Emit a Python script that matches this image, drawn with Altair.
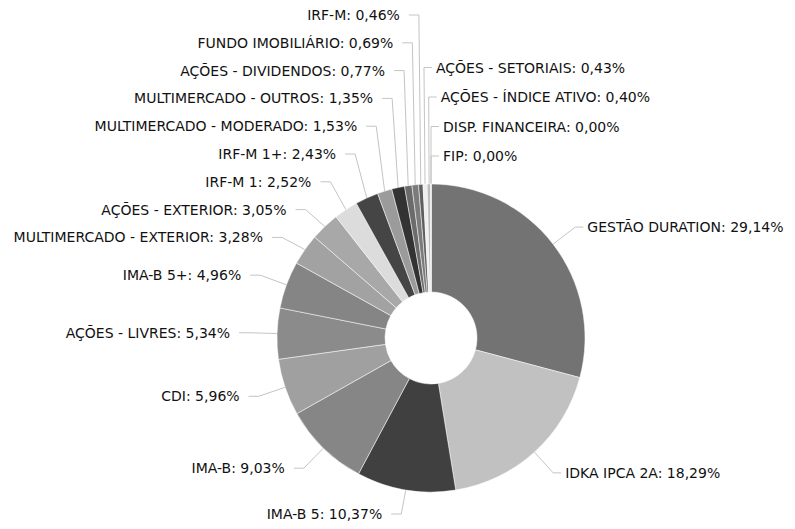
import math
import altair as alt
import pandas as pd

# ---------------- data ----------------
names = [
    "GESTÃO DURATION", "IDKA IPCA 2A", "IMA-B 5", "IMA-B", "CDI",
    "AÇÕES - LIVRES", "IMA-B 5+", "MULTIMERCADO - EXTERIOR", "AÇÕES - EXTERIOR",
    "IRF-M 1", "IRF-M 1+", "MULTIMERCADO - MODERADO", "MULTIMERCADO - OUTROS",
    "AÇÕES - DIVIDENDOS", "FUNDO IMOBILIÁRIO", "IRF-M", "AÇÕES - SETORIAIS",
    "AÇÕES - ÍNDICE ATIVO", "DISP. FINANCEIRA", "FIP",
]
values = [29.14, 18.29, 10.37, 9.03, 5.96, 5.34, 4.96, 3.28, 3.05, 2.52,
          2.43, 1.53, 1.35, 0.77, 0.69, 0.46, 0.43, 0.40, 0.00, 0.00]
colors = [
    "#737373", "#c1c1c1", "#404040", "#868686", "#a0a0a0",
    "#8b8b8b", "#858585", "#a2a2a2", "#a8a8a8", "#dcdcdc",
    "#454545", "#9b9b9b", "#333333", "#6b6b6b", "#7b7b7b",
    "#5f5f5f", "#efefef", "#bdbdbd", "#888888", "#888888",
]

# ---------------- layout (page pixel coordinates) ----------------
ORIGIN = 8
W, H = 779, 513
CX, CY = 431, 338
R_OUT, R_IN = 154, 46
R_ELBOW = 182
STUB = {"left": 10, "right": 8}
GAP = {"left": 9, "right": 4}
SPACING = {"left": 27.8, "right": 29.5}
TOP_LIMIT = 15
BOTTOM_LIMIT = 514
WRAP_DEG = 357

total = sum(values)
recs = []
cum = 0.0
for i, (n, v) in enumerate(zip(names, values)):
    mid = (cum + v / 2) / total * 360.0
    cum += v
    a = math.radians(mid)
    side = "right" if (mid < 180 or mid > WRAP_DEG) else "left"
    key = (mid if mid < 180 else mid - 360) if side == "right" else -mid
    pct = f"{v:.2f}".replace(".", ",")
    recs.append(dict(
        idx=i, name=n, value=v, mid=mid, side=side, key=(key, i),
        ax=CX + R_OUT * math.sin(a), ay=CY - R_OUT * math.cos(a),
        ex=CX + R_ELBOW * math.sin(a), ey=CY - R_ELBOW * math.cos(a),
        label=f"{n}: {pct}%",
    ))

# resolve label overlaps per side (ordered top -> bottom)
for side in ("left", "right"):
    grp = sorted([r for r in recs if r["side"] == side], key=lambda r: r["key"])
    sp = SPACING[side]
    ys = [r["ey"] for r in grp]
    ys[-1] = min(ys[-1], BOTTOM_LIMIT)
    for k in range(len(ys) - 2, -1, -1):
        ys[k] = min(ys[k], ys[k + 1] - sp)
    ys[0] = max(ys[0], TOP_LIMIT)
    for k in range(1, len(ys)):
        ys[k] = max(ys[k], ys[k - 1] + sp)
    for r, y in zip(grp, ys):
        r["ly"] = y

seg_rows = []
lab_rows = []
for r in recs:
    s = r["side"]
    sgn = 1 if s == "right" else -1
    sx = r["ex"] + sgn * STUB[s]
    seg_rows.append(dict(name=r["name"], x=r["ax"], y=r["ay"], x2=r["ex"], y2=r["ly"]))
    seg_rows.append(dict(name=r["name"], x=r["ex"], y=r["ly"], x2=sx, y2=r["ly"]))
    lab_rows.append(dict(name=r["name"], side=s, label=r["label"],
                         x=sx + sgn * GAP[s], y=r["ly"]))

pie_df = pd.DataFrame({"idx": list(range(len(names))), "name": names, "value": values})
seg_df = pd.DataFrame(seg_rows)
lab_df = pd.DataFrame(lab_rows)

xs = alt.Scale(domain=[ORIGIN, ORIGIN + W], nice=False, zero=False)
ys_ = alt.Scale(domain=[ORIGIN, ORIGIN + H], nice=False, zero=False, reverse=True)

arcs = alt.Chart(pie_df).mark_arc(
    radius=R_OUT, radius2=R_IN, stroke="#ffffff", strokeWidth=0.5
).encode(
    theta=alt.Theta("value:Q", stack=True),
    order=alt.Order("idx:Q", sort="ascending"),
    color=alt.Color("name:N", scale=alt.Scale(domain=names, range=colors), legend=None),
    x=alt.value(CX - ORIGIN),
    y=alt.value(CY - ORIGIN),
)

lines = alt.Chart(seg_df).mark_rule(color="#c4c4c4", strokeWidth=1).encode(
    x=alt.X("x:Q", scale=xs, axis=None),
    y=alt.Y("y:Q", scale=ys_, axis=None),
    x2="x2:Q",
    y2="y2:Q",
)

text_style = dict(font="DejaVu Sans", fontSize=14, color="#111111", baseline="middle", dy=1)
left_text = alt.Chart(lab_df[lab_df.side == "left"]).mark_text(align="right", **text_style).encode(
    x=alt.X("x:Q", scale=xs, axis=None),
    y=alt.Y("y:Q", scale=ys_, axis=None),
    text="label:N",
)
right_text = alt.Chart(lab_df[lab_df.side == "right"]).mark_text(align="left", **text_style).encode(
    x=alt.X("x:Q", scale=xs, axis=None),
    y=alt.Y("y:Q", scale=ys_, axis=None),
    text="label:N",
)

chart = alt.layer(lines, arcs, left_text, right_text).properties(
    width=W, height=H, padding=0,
    autosize=alt.AutoSizeParams(type="none"),
    background="#ffffff",
).configure_view(strokeWidth=0)

chart.save("out.html", embed_options={"renderer": "svg", "actions": False})
